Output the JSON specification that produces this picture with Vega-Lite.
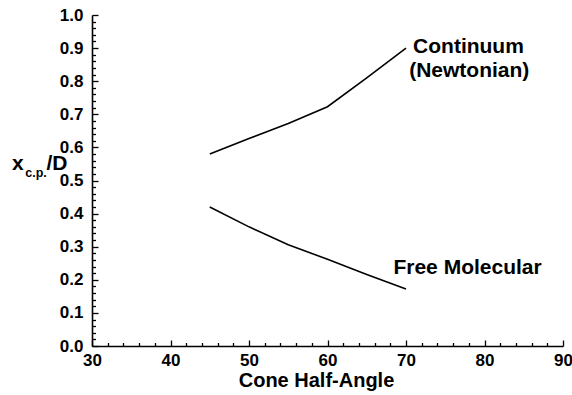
{
  "$schema": "https://vega.github.io/schema/vega-lite/v6.json",
  "width": 471,
  "height": 331,
  "autosize": "none",
  "padding": {"left": 92, "top": 15, "right": 9, "bottom": 49},
  "background": "white",
  "config": {
    "view": {"stroke": null},
    "font": "Liberation Sans",
    "text": {"font": "Liberation Sans", "fontWeight": "bold", "color": "black"}
  },
  "datasets": {
    "curves": [
      {"series": "Continuum", "angle": 45, "value": 0.58},
      {"series": "Continuum", "angle": 50, "value": 0.627},
      {"series": "Continuum", "angle": 55, "value": 0.672},
      {"series": "Continuum", "angle": 60, "value": 0.723},
      {"series": "Continuum", "angle": 65, "value": 0.81},
      {"series": "Continuum", "angle": 70, "value": 0.90},
      {"series": "Free Molecular", "angle": 45, "value": 0.42},
      {"series": "Free Molecular", "angle": 50, "value": 0.36},
      {"series": "Free Molecular", "angle": 55, "value": 0.306},
      {"series": "Free Molecular", "angle": 60, "value": 0.262},
      {"series": "Free Molecular", "angle": 65, "value": 0.216},
      {"series": "Free Molecular", "angle": 70, "value": 0.172}
    ],
    "labels": [
      {"t": "Continuum", "angle": 70.9, "value": 0.886},
      {"t": "(Newtonian)", "angle": 70.4, "value": 0.814},
      {"t": "Free Molecular", "angle": 68.4, "value": 0.217}
    ],
    "ytitleMain": [
      {"t": "x", "angle": 19.8, "value": 0.532},
      {"t": "/D", "angle": 24.2, "value": 0.532}
    ],
    "ytitleSub": [
      {"t": "c.p.", "angle": 21.5, "value": 0.511}
    ]
  },
  "encoding": {
    "x": {
      "field": "angle",
      "type": "quantitative",
      "scale": {"domain": [30, 90], "nice": false, "zero": false},
      "axis": {
        "values": [30,32,34,36,38,40,42,44,46,48,50,52,54,56,58,60,62,64,66,68,70,72,74,76,78,80,82,84,86,88,90],
        "title": "Cone Half-Angle",
        "titleX": 224,
        "titleY": 40,
        "titleBaseline": "alphabetic",
        "titleFont": "Liberation Sans",
        "titleFontSize": 20,
        "titleFontWeight": "bold",
        "titleColor": "black",
        "labelExpr": "datum.value % 10 === 0 ? datum.label : ''",
        "labelFlush": false,
        "labelOverlap": false,
        "labelFont": "Liberation Sans",
        "labelFontSize": 17,
        "labelFontWeight": "bold",
        "labelColor": "black",
        "labelPadding": 12,
        "tickSize": {"condition": {"test": "datum.value % 10 === 0", "value": -6}, "value": -3.5},
        "tickColor": "black",
        "tickWidth": 1.3,
        "domainColor": "black",
        "domainWidth": 1.6,
        "grid": false
      }
    },
    "y": {
      "field": "value",
      "type": "quantitative",
      "scale": {"domain": [0, 1], "nice": false, "zero": false},
      "axis": {
        "values": [0,0.02,0.04,0.06,0.08,0.1,0.12,0.14,0.16,0.18,0.2,0.22,0.24,0.26,0.28,0.3,0.32,0.34,0.36,0.38,0.4,0.42,0.44,0.46,0.48,0.5,0.52,0.54,0.56,0.58,0.6,0.62,0.64,0.66,0.68,0.7,0.72,0.74,0.76,0.78,0.8,0.82,0.84,0.86,0.88,0.9,0.92,0.94,0.96,0.98,1.0],
        "title": null,
        "labelExpr": "abs(datum.value*10 - round(datum.value*10)) < 0.000001 ? format(datum.value, '.1f') : ''",
        "labelOverlap": false,
        "labelFont": "Liberation Sans",
        "labelFontSize": 17,
        "labelFontWeight": "bold",
        "labelColor": "black",
        "labelPadding": 15,
        "tickSize": {"condition": {"test": "abs(datum.value*10 - round(datum.value*10)) < 0.000001", "value": -6}, "value": -3.5},
        "tickColor": "black",
        "tickWidth": 1.3,
        "domainColor": "black",
        "domainWidth": 1.6,
        "grid": false
      }
    }
  },
  "layer": [
    {
      "data": {"name": "curves"},
      "mark": {"type": "line", "color": "black", "strokeWidth": 1.6},
      "encoding": {"detail": {"field": "series", "type": "nominal"}}
    },
    {
      "data": {"name": "labels"},
      "mark": {"type": "text", "align": "left", "baseline": "alphabetic", "fontSize": 21},
      "encoding": {"text": {"field": "t", "type": "nominal"}}
    },
    {
      "data": {"name": "ytitleMain"},
      "mark": {"type": "text", "align": "left", "baseline": "alphabetic", "fontSize": 21},
      "encoding": {"text": {"field": "t", "type": "nominal"}}
    },
    {
      "data": {"name": "ytitleSub"},
      "mark": {"type": "text", "align": "left", "baseline": "alphabetic", "fontSize": 12.5},
      "encoding": {"text": {"field": "t", "type": "nominal"}}
    }
  ]
}
